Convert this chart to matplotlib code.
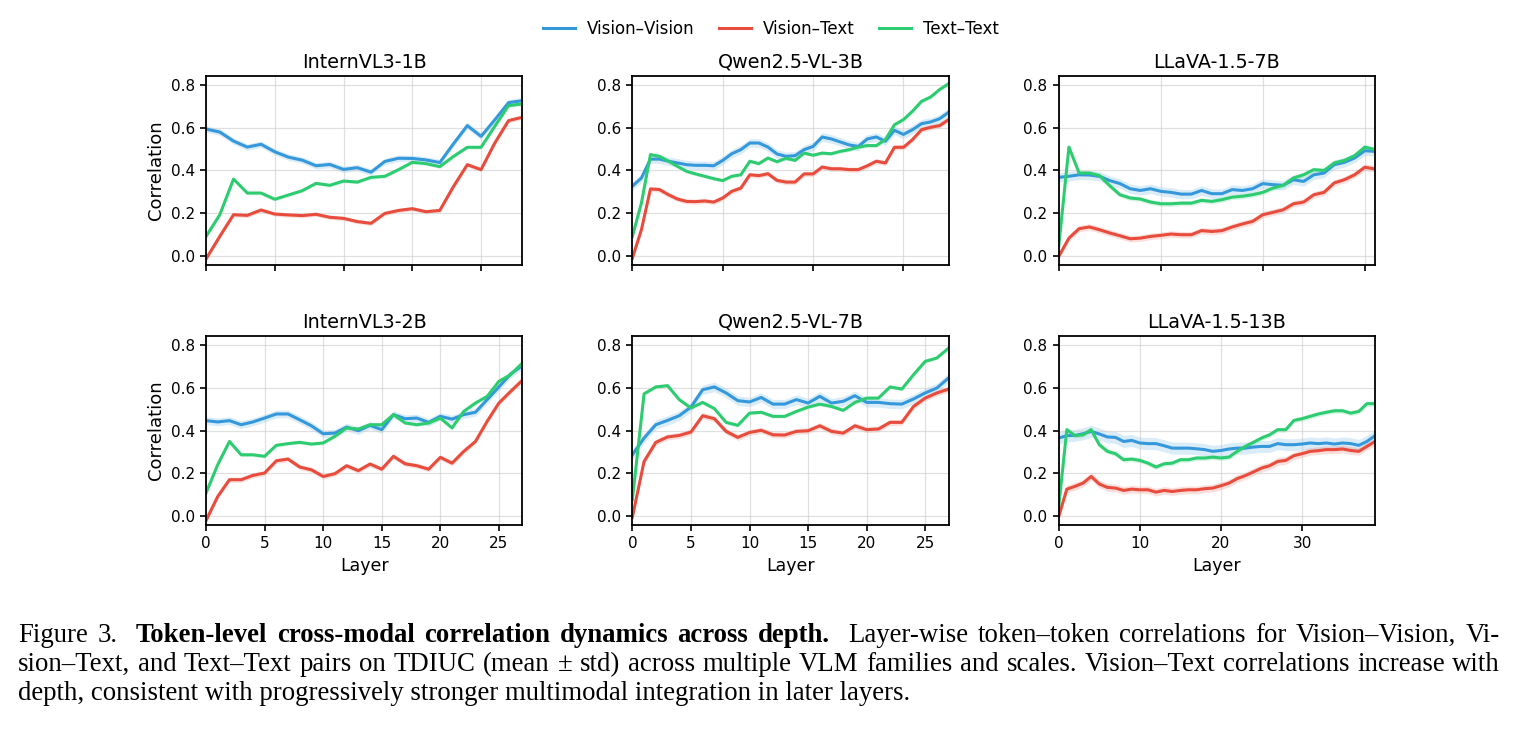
import matplotlib
matplotlib.use("Agg")
import matplotlib.pyplot as plt
import numpy as np

# ---- data ----
models = ["InternVL3-1B", "Qwen2.5-VL-3B", "LLaVA-1.5-7B",
          "InternVL3-2B", "Qwen2.5-VL-7B", "LLaVA-1.5-13B"]
series_names = ["Vision\u2013Vision", "Vision\u2013Text", "Text\u2013Text"]

internvl3_1b_vv = [0.593, 0.579, 0.537, 0.509, 0.522, 0.487, 0.462, 0.448, 0.422, 0.428, 0.405, 0.413,
                   0.392, 0.442, 0.457, 0.456, 0.449, 0.437, 0.525, 0.609, 0.559, 0.636, 0.716, 0.725]
internvl3_1b_vt = [-0.012, 0.093, 0.194, 0.191, 0.216, 0.197, 0.193, 0.190, 0.196, 0.182, 0.177, 0.162,
                   0.154, 0.200, 0.214, 0.222, 0.208, 0.214, 0.326, 0.427, 0.404, 0.528, 0.632, 0.648]
internvl3_1b_tt = [0.093, 0.194, 0.360, 0.295, 0.295, 0.266, 0.286, 0.306, 0.340, 0.331, 0.351, 0.346,
                   0.368, 0.373, 0.404, 0.438, 0.432, 0.418, 0.466, 0.508, 0.508, 0.606, 0.702, 0.710]

qwen25vl_3b_vv = [0.327, 0.365, 0.453, 0.453, 0.443, 0.435, 0.427, 0.424, 0.424, 0.422, 0.447, 0.478,
                  0.497, 0.528, 0.528, 0.509, 0.477, 0.466, 0.469, 0.497, 0.512, 0.556, 0.547, 0.533,
                  0.519, 0.512, 0.547, 0.556, 0.536, 0.587, 0.568, 0.590, 0.618, 0.626, 0.641, 0.671]
qwen25vl_3b_vt = [-0.008, 0.124, 0.314, 0.311, 0.287, 0.267, 0.256, 0.255, 0.258, 0.253, 0.272, 0.303,
                  0.318, 0.380, 0.376, 0.385, 0.354, 0.346, 0.346, 0.384, 0.384, 0.416, 0.408, 0.408,
                  0.404, 0.404, 0.422, 0.443, 0.435, 0.508, 0.508, 0.544, 0.590, 0.601, 0.609, 0.637]
qwen25vl_3b_tt = [0.093, 0.248, 0.474, 0.466, 0.443, 0.419, 0.396, 0.384, 0.373, 0.362, 0.353, 0.373,
                  0.380, 0.443, 0.432, 0.458, 0.441, 0.457, 0.447, 0.481, 0.471, 0.481, 0.478, 0.489,
                  0.497, 0.509, 0.516, 0.516, 0.544, 0.613, 0.637, 0.676, 0.722, 0.742, 0.777, 0.804]

llava15_7b_vv = [0.368, 0.373, 0.380, 0.379, 0.373, 0.353, 0.339, 0.315, 0.307, 0.315, 0.303, 0.298,
                 0.290, 0.290, 0.307, 0.292, 0.292, 0.311, 0.307, 0.315, 0.339, 0.334, 0.331, 0.357,
                 0.349, 0.380, 0.388, 0.427, 0.438, 0.458, 0.492, 0.489]
llava15_7b_vt = [0.000, 0.085, 0.129, 0.137, 0.124, 0.109, 0.096, 0.082, 0.085, 0.093, 0.098, 0.104,
                 0.101, 0.101, 0.120, 0.116, 0.120, 0.137, 0.151, 0.163, 0.194, 0.205, 0.217, 0.245,
                 0.253, 0.287, 0.298, 0.342, 0.357, 0.380, 0.415, 0.407]
llava15_7b_tt = [0.047, 0.509, 0.388, 0.388, 0.376, 0.329, 0.287, 0.272, 0.267, 0.253, 0.245, 0.245,
                 0.248, 0.248, 0.261, 0.256, 0.264, 0.276, 0.280, 0.287, 0.298, 0.318, 0.331, 0.365,
                 0.380, 0.404, 0.400, 0.435, 0.447, 0.469, 0.509, 0.497]

internvl3_2b_vv = [0.446, 0.440, 0.446, 0.427, 0.440, 0.458, 0.477, 0.477, 0.450, 0.422, 0.385, 0.388,
                   0.416, 0.399, 0.424, 0.404, 0.474, 0.455, 0.458, 0.438, 0.466, 0.453, 0.474, 0.485,
                   0.544, 0.603, 0.663, 0.702]
internvl3_2b_vt = [-0.019, 0.093, 0.171, 0.171, 0.191, 0.202, 0.259, 0.267, 0.230, 0.217, 0.186, 0.199,
                   0.236, 0.213, 0.244, 0.220, 0.280, 0.245, 0.236, 0.220, 0.275, 0.248, 0.303, 0.349,
                   0.443, 0.528, 0.582, 0.634]
internvl3_2b_tt = [0.109, 0.241, 0.349, 0.287, 0.287, 0.280, 0.331, 0.339, 0.345, 0.337, 0.342, 0.373,
                   0.412, 0.407, 0.427, 0.427, 0.474, 0.435, 0.427, 0.435, 0.458, 0.412, 0.489, 0.528,
                   0.559, 0.629, 0.660, 0.714]

qwen25vl_7b_vv = [0.287, 0.365, 0.427, 0.447, 0.469, 0.509, 0.590, 0.603, 0.575, 0.539, 0.533, 0.554,
                  0.523, 0.523, 0.544, 0.528, 0.559, 0.528, 0.536, 0.562, 0.531, 0.531, 0.525, 0.523,
                  0.547, 0.575, 0.598, 0.645]
qwen25vl_7b_vt = [-0.003, 0.256, 0.345, 0.370, 0.377, 0.393, 0.469, 0.455, 0.396, 0.368, 0.391, 0.401,
                  0.380, 0.379, 0.396, 0.399, 0.422, 0.396, 0.388, 0.422, 0.404, 0.407, 0.438, 0.438,
                  0.512, 0.551, 0.575, 0.593]
qwen25vl_7b_tt = [0.078, 0.571, 0.603, 0.609, 0.544, 0.505, 0.531, 0.502, 0.438, 0.424, 0.481, 0.485,
                  0.466, 0.466, 0.489, 0.509, 0.523, 0.512, 0.494, 0.531, 0.551, 0.551, 0.603, 0.593,
                  0.660, 0.722, 0.738, 0.784]

llava15_13b_vv = [0.365, 0.376, 0.377, 0.385, 0.396, 0.384, 0.370, 0.368, 0.349, 0.354, 0.342, 0.339,
                  0.339, 0.329, 0.318, 0.318, 0.318, 0.315, 0.311, 0.303, 0.307, 0.314, 0.318, 0.318,
                  0.323, 0.326, 0.326, 0.339, 0.334, 0.334, 0.337, 0.342, 0.339, 0.342, 0.337, 0.342,
                  0.339, 0.331, 0.349, 0.376]
llava15_13b_vt = [0.000, 0.127, 0.140, 0.155, 0.186, 0.151, 0.135, 0.132, 0.121, 0.127, 0.124, 0.124,
                  0.113, 0.121, 0.116, 0.121, 0.124, 0.124, 0.129, 0.132, 0.143, 0.155, 0.176, 0.190,
                  0.207, 0.225, 0.236, 0.256, 0.261, 0.283, 0.292, 0.303, 0.306, 0.311, 0.311, 0.314,
                  0.307, 0.303, 0.326, 0.349]
llava15_13b_tt = [0.047, 0.404, 0.376, 0.380, 0.404, 0.334, 0.303, 0.292, 0.264, 0.267, 0.261, 0.248,
                  0.230, 0.245, 0.248, 0.264, 0.264, 0.272, 0.272, 0.276, 0.272, 0.276, 0.303, 0.326,
                  0.345, 0.365, 0.380, 0.404, 0.404, 0.447, 0.455, 0.466, 0.477, 0.485, 0.492, 0.492,
                  0.481, 0.489, 0.525, 0.525]

# std band half-widths per model: [Vision-Vision, Vision-Text, Text-Text]
internvl3_1b_std = [0.015, 0.010, 0.008]
qwen25vl_3b_std = [0.020, 0.012, 0.008]
llava15_7b_std = [0.022, 0.015, 0.012]
internvl3_2b_std = [0.018, 0.012, 0.008]
qwen25vl_7b_std = [0.022, 0.014, 0.008]
llava15_13b_std = [0.028, 0.018, 0.012]

panel_data = [
    (internvl3_1b_vv, internvl3_1b_vt, internvl3_1b_tt, internvl3_1b_std),
    (qwen25vl_3b_vv, qwen25vl_3b_vt, qwen25vl_3b_tt, qwen25vl_3b_std),
    (llava15_7b_vv, llava15_7b_vt, llava15_7b_tt, llava15_7b_std),
    (internvl3_2b_vv, internvl3_2b_vt, internvl3_2b_tt, internvl3_2b_std),
    (qwen25vl_7b_vv, qwen25vl_7b_vt, qwen25vl_7b_tt, qwen25vl_7b_std),
    (llava15_13b_vv, llava15_13b_vt, llava15_13b_tt, llava15_13b_std),
]
colors = ["#3498db", "#e74c3c", "#2ecc71"]
yticks = [0.0, 0.2, 0.4, 0.6, 0.8]

# ---- figure ----
fig, axes = plt.subplots(2, 3, figsize=(15.16, 7.35), dpi=100)
fig.subplots_adjust(left=0.1359, right=0.907, top=0.8966, bottom=0.2857,
                    wspace=0.348, hspace=0.376)

for i, ax in enumerate(axes.flat):
    vv, vt, tt, std = panel_data[i]
    for vals, s, c, name in zip([vv, vt, tt], std, colors, series_names):
        y = np.array(vals)
        x = np.arange(len(y))
        ax.fill_between(x, y - s, y + s, color=c, alpha=0.18, linewidth=0)
        ax.plot(x, y, color=c, lw=2.2, label=name)
    ax.set_xlim(0, len(vv) - 1)
    ax.set_ylim(-0.04, 0.84)
    ax.set_yticks(yticks)
    ax.grid(True, color="#cccccc", alpha=0.6, lw=0.9)
    ax.set_title(models[i], fontsize=13.8)
    ax.tick_params(labelsize=11, width=1.2, length=4.5)
    for sp in ax.spines.values():
        sp.set_linewidth(1.3)
    if i < 3:
        ax.tick_params(labelbottom=False)
    else:
        ax.set_xlabel("Layer", fontsize=12.5)
    if i % 3 == 0:
        ax.set_ylabel("Correlation", fontsize=13)

handles, labels = axes[0, 0].get_legend_handles_labels()
fig.legend(handles, labels, loc="center", bbox_to_anchor=(0.5086, 0.961), ncol=3,
           frameon=False, fontsize=12, handlelength=1.9, handletextpad=0.7,
           columnspacing=1.5)

# ---- caption (justified, Times-like) ----
serif = "Liberation Serif"
cap_size = 19.3
left_px, right_px = 18, 1500
W, H = 1516, 735
renderer = fig.canvas.get_renderer()

line1 = [("Figure", False), ("3.", False), ("Token-level", True), ("cross-modal", True),
         ("correlation", True), ("dynamics", True), ("across", True), ("depth.", True),
         ("Layer-wise", False), ("token\u2013token", False), ("correlations", False),
         ("for", False), ("Vision\u2013Vision,", False), ("Vi-", False)]
line2 = [(w, False) for w in
         "sion\u2013Text, and Text\u2013Text pairs on TDIUC (mean \u00b1 std) across multiple VLM "
         "families and scales. Vision\u2013Text correlations increase with".split(" ")]
line3 = "depth, consistent with progressively stronger multimodal integration in later layers."
wide_after = {"3.", "depth."}


def justify(words, baseline_px):
    texts = []
    for w, bold in words:
        t = fig.text(0, 1 - baseline_px / H, w, fontsize=cap_size, family=serif,
                     fontweight="bold" if bold else "normal", va="baseline", ha="left")
        texts.append(t)
    widths = [t.get_window_extent(renderer).width for t in texts]
    weights = [2.0 if w in wide_after else 1.0 for w, _ in words[:-1]]
    gap = (right_px - left_px - sum(widths)) / sum(weights)
    x = left_px
    for t, wd, wt in zip(texts, widths, weights + [0]):
        t.set_x(x / W)
        x += wd + gap * wt


justify(line1, 642)
justify(line2, 671)
fig.text(left_px / W, 1 - 700 / H, line3, fontsize=cap_size, family=serif,
         va="baseline", ha="left")

fig.savefig("out.png", dpi=100)
